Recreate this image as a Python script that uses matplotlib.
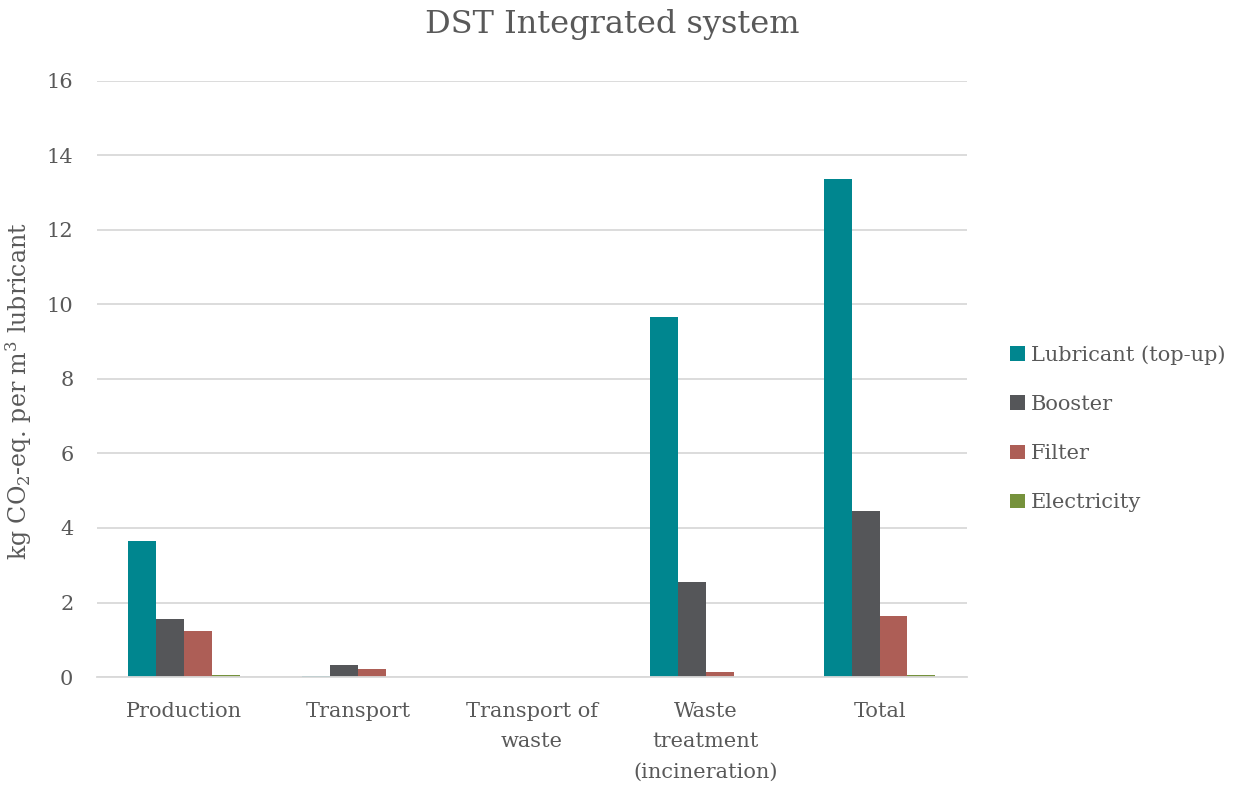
import matplotlib.pyplot as plt
import numpy as np

plt.rcParams['font.family'] = ['DejaVu Serif']
plt.rcParams['mathtext.default'] = 'regular'

categories = ["Production", "Transport", "Transport of\nwaste",
              "Waste\ntreatment\n(incineration)", "Total"]
series = ["Lubricant (top-up)", "Booster", "Filter", "Electricity"]
lubricant = [3.65, 0.02, 0.0, 9.65, 13.35]
booster = [1.55, 0.33, 0.0, 2.55, 4.45]
filt = [1.25, 0.22, 0.0, 0.15, 1.65]
electricity = [0.05, 0.0, 0.0, 0.0, 0.05]
colors = ["#00868F", "#555659", "#AD5E56", "#76923C"]

values = [lubricant, booster, filt, electricity]
txt = "#595959"

fig = plt.figure(figsize=(12.44, 7.91), dpi=100)
ax = fig.add_axes([0.078, 0.144, 0.699, 0.754])

x = np.arange(len(categories))
w = 0.16
for i, (name, vals) in enumerate(zip(series, values)):
    ax.bar(x + (i - 1.5) * w, vals, w, color=colors[i], label=name, zorder=3)

ax.set_xlim(-0.5, len(categories) - 0.5)
ax.set_ylim(0, 16)
ax.set_yticks(range(0, 17, 2))
ax.set_xticks(x)
ax.set_xticklabels(categories, fontsize=15, color=txt, linespacing=1.75)
ax.tick_params(axis='y', labelsize=15, labelcolor=txt, length=0, pad=17)
ax.tick_params(axis='x', length=0, pad=18)
ax.grid(axis='y', color="#d9d9d9", linewidth=1.3, zorder=0)
for s in ["top", "right", "left"]:
    ax.spines[s].set_visible(False)
ax.spines["bottom"].set_color("#d9d9d9")
ax.spines["bottom"].set_linewidth(1.3)
ax.spines["bottom"].set_zorder(4)

ax.set_ylabel("kg CO$_2$-eq. per m$^3$ lubricant", fontsize=17, color=txt)
ax.yaxis.set_label_coords(-0.073, 0.48)
fig.suptitle("DST Integrated system", fontsize=23, color=txt, x=0.492, y=0.988)

fig.legend(loc="center left", bbox_to_anchor=(0.797, 0.458), frameon=False,
           fontsize=15, labelcolor=txt, handlelength=0.7, handleheight=0.7,
           handletextpad=0.3, labelspacing=1.45)

fig.savefig("out.png", dpi=100)
